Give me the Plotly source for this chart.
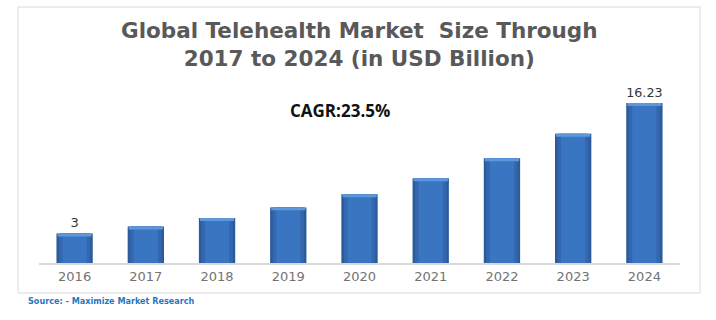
import plotly.graph_objects as go

years = ["2016", "2017", "2018", "2019", "2020", "2021", "2022", "2023", "2024"]
values = [3.0, 3.7, 4.57, 5.64, 6.97, 8.6, 10.63, 13.12, 16.23]
labels = ["3", "", "", "", "", "", "", "", "16.23"]
title_lines = ["Global Telehealth Market  Size Through", "2017 to 2024 (in USD Billion)"]
cagr_text = "CAGR:23.5%"
source_text = "Source: - Maximize Market Research"

fig = go.Figure()

# layered bars to imitate the shaded 3D look
fig.add_trace(go.Bar(x=years, y=values, width=0.51, marker=dict(color="#2b5b9b", line=dict(width=0)),
                     text=labels, textposition="outside", cliponaxis=False,
                     textfont=dict(family="DejaVu Sans", size=13, color="#333333"), hoverinfo="skip"))
fig.add_trace(go.Bar(x=years, y=values, width=0.44, marker=dict(color="#3467ad", line=dict(width=0)), hoverinfo="skip"))
fig.add_trace(go.Bar(x=years, y=values, width=0.34, marker=dict(color="#3a75c2", line=dict(width=0)), hoverinfo="skip"))
cap = [0.3] * len(values)
fig.add_trace(go.Bar(x=years, y=cap, base=[v - c for v, c in zip(values, cap)], width=0.48,
                     marker=dict(color="#5f98da", line=dict(width=0)), hoverinfo="skip"))

fig.update_layout(
    width=716, height=320,
    barmode="overlay",
    showlegend=False,
    paper_bgcolor="white", plot_bgcolor="white",
    margin=dict(l=39, r=36, t=90, b=57),
    xaxis=dict(range=[-0.5, 8.5], showgrid=False, showline=True, linecolor="#d9d9d9", linewidth=2,
               ticks="", tickfont=dict(family="DejaVu Sans", size=13, color="#737373"), fixedrange=True),
    yaxis=dict(range=[0, 17.55], visible=False, showgrid=False, fixedrange=True),
    shapes=[dict(type="rect", xref="paper", yref="paper",
                 x0=(18 - 39) / 641, x1=(700 - 39) / 641, y0=(263 - 293) / 173, y1=(263 - 7) / 173,
                 line=dict(color="#d9d9d9", width=1), fillcolor="rgba(0,0,0,0)", layer="below")],
    annotations=[
        dict(text="<b>" + title_lines[0] + "</b><br><b>" + title_lines[1] + "</b>",
             xref="paper", yref="paper", x=(359 - 39) / 641, y=(263 - 44.5) / 173,
             showarrow=False, xanchor="center", yanchor="middle", align="center",
             font=dict(family="DejaVu Sans", size=21.5, color="#595959")),
        dict(text="<b>" + cagr_text + "</b>", xref="paper", yref="paper", x=(340 - 39) / 641, y=(263 - 110) / 173,
             showarrow=False, xanchor="center", yanchor="middle",
             font=dict(family="Open Sans", size=17, color="#111111")),
        dict(text="<b>" + source_text + "</b>", xref="paper", yref="paper", x=(26 - 39) / 641, y=(263 - 301) / 173,
             showarrow=False, xanchor="left", yanchor="middle",
             font=dict(family="DejaVu Sans Condensed", size=9, color="#1f78c1")),
    ],
)

fig.write_html("out.html")
